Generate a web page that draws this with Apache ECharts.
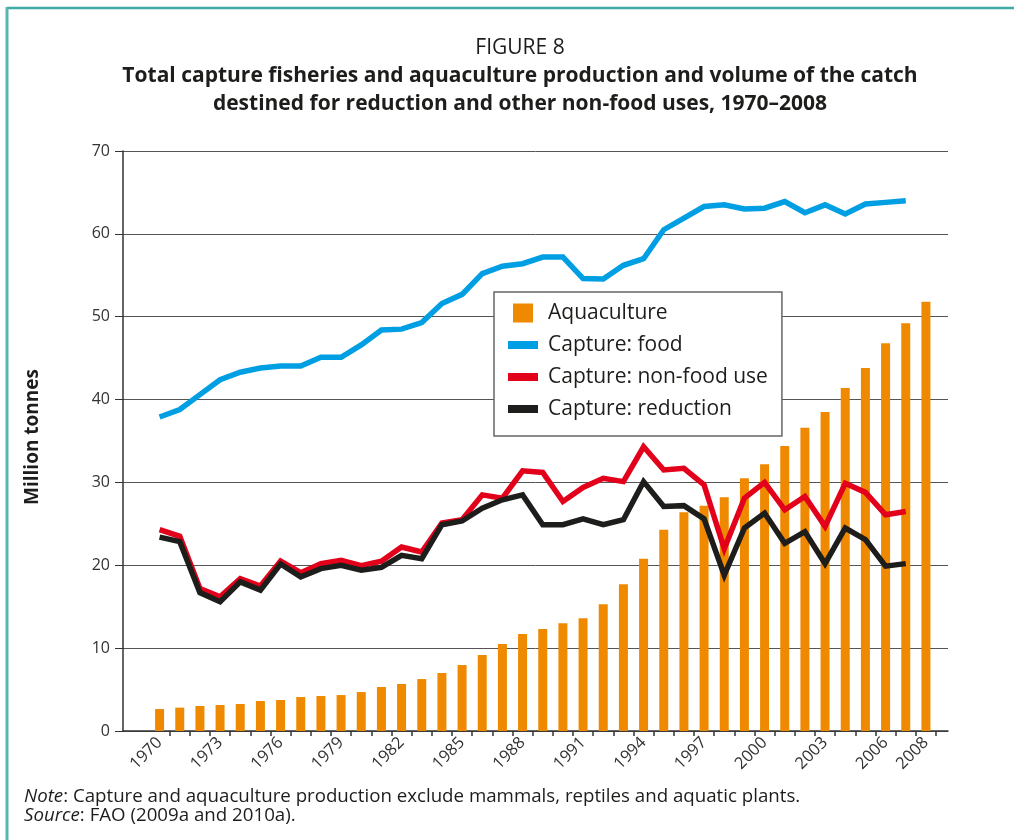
<!DOCTYPE html>
<html>
<head>
<meta charset="utf-8">
<script src="https://cdn.jsdelivr.net/npm/echarts@6/dist/echarts.min.js"></script>
<style>
  html, body { margin: 0; padding: 0; background: #fff; }
  #main { width: 1014px; height: 840px; }
</style>
</head>
<body>
<div id="main"></div>
<script>
// years on the x axis
var years = ['1970', '1971', '1972', '1973', '1974', '1975', '1976', '1977', '1978', '1979',
  '1980', '1981', '1982', '1983', '1984', '1985', '1986', '1987', '1988', '1989',
  '1990', '1991', '1992', '1993', '1994', '1995', '1996', '1997', '1998', '1999',
  '2000', '2001', '2002', '2003', '2004', '2005', '2006', '2007', '2008'];

// million tonnes
var aquaculture = [2.65, 2.82, 3.02, 3.14, 3.26, 3.62, 3.74, 4.1, 4.22, 4.34,
  4.7, 5.31, 5.67, 6.27, 7.0, 7.96, 9.17, 10.5, 11.7, 12.3,
  13.0, 13.6, 15.3, 17.7, 20.8, 24.3, 26.4, 27.2, 28.2, 30.5,
  32.2, 34.4, 36.6, 38.5, 41.4, 43.8, 46.8, 49.2, 51.8];
var captureFood = [37.9, 38.8, 40.6, 42.4, 43.3, 43.8, 44.05, 44.05, 45.1, 45.1,
  46.6, 48.4, 48.5, 49.3, 51.6, 52.7, 55.2, 56.1, 56.4, 57.2,
  57.2, 54.6, 54.55, 56.2, 57.0, 60.5, 61.9, 63.3, 63.5, 63.0,
  63.1, 63.9, 62.55, 63.5, 62.4, 63.6, 63.8, 64.0];
var captureNonFood = [24.3, 23.5, 17.2, 16.2, 18.4, 17.5, 20.5, 19.1, 20.2, 20.6,
  19.95, 20.5, 22.2, 21.6, 25.1, 25.5, 28.5, 28.1, 31.4, 31.2,
  27.7, 29.4, 30.5, 30.1, 34.3, 31.5, 31.7, 29.7, 22.0, 28.1,
  30.0, 26.7, 28.3, 24.7, 29.9, 28.8, 26.1, 26.5];
var captureReduction = [23.4, 22.85, 16.7, 15.6, 18.0, 17.0, 20.15, 18.6, 19.6, 20.0,
  19.4, 19.75, 21.2, 20.8, 24.9, 25.35, 26.9, 27.9, 28.5, 24.9,
  24.9, 25.6, 24.9, 25.5, 30.1, 27.1, 27.2, 25.6, 18.8, 24.5,
  26.3, 22.65, 24.05, 20.2, 24.5, 23.1, 19.9, 20.2];

var yMin = 0, yMax = 70, yStep = 10;

var FONT = '"Open Sans", "Noto Sans", sans-serif';
var TXT = '#1d1d1b';

// legend icons: a square for the bars, a short thick bar for the lines
var ICON_SQUARE = 'path://M0 0M5 0L25 0L25 19L5 19ZM35 19';
var ICON_LINE = 'path://M0 0M0 5.5L30 5.5L30 13.5L0 13.5ZM35 19';

var myChart = echarts.init(document.getElementById('main'));

myChart.setOption({
  backgroundColor: '#ffffff',
  animation: false,
  title: [{
    text: 'FIGURE 8',
    left: 520, top: 35, textAlign: 'center', padding: 0,
    textStyle: { fontFamily: FONT, fontSize: 21, fontWeight: 'normal', color: TXT, lineHeight: 26 }
  }, {
    text: 'Total capture fisheries and aquaculture production and volume of the catch\ndestined for reduction and other non-food uses, 1970\u20132008',
    left: 520, top: 62, textAlign: 'center', padding: 0,
    textStyle: { fontFamily: FONT, fontSize: 21, fontWeight: 'bold', color: TXT, lineHeight: 28 }
  }],
  legend: {
    orient: 'vertical',
    left: 494, top: 292,
    padding: [10.5, 14, 16.5, 14],
    itemGap: 11,
    itemWidth: 35, itemHeight: 19,
    backgroundColor: '#ffffff',
    borderColor: '#666', borderWidth: 1.5,
    itemStyle: { borderWidth: 0 },
    textStyle: { fontFamily: FONT, fontSize: 21, color: TXT, lineHeight: 21 },
    data: [
      { name: 'Aquaculture', icon: ICON_SQUARE },
      { name: 'Capture: food', icon: ICON_LINE },
      { name: 'Capture: non-food use', icon: ICON_LINE },
      { name: 'Capture: reduction', icon: ICON_LINE }
    ]
  },
  grid: [
    // frame grid: axis lines, gridlines, y labels
    { left: 123, right: 66, top: 151, bottom: 109 },
    // data grid
    { left: 149.5, right: 78, top: 151, bottom: 109 }
  ],
  xAxis: [{
    gridIndex: 0, type: 'value', min: 0, max: 1,
    axisLine: { show: true, lineStyle: { color: '#333', width: 1.5 } },
    axisTick: { show: false }, axisLabel: { show: false }, splitLine: { show: false }
  }, {
    gridIndex: 1, type: 'category', data: years, boundaryGap: true,
    axisLine: { show: false },
    axisTick: {
      show: true, length: 5, inside: false,
      interval: function (i) { return i > 0; },
      lineStyle: { color: '#333', width: 1.5 }
    },
    axisLabel: {
      rotate: 45, margin: 9, fontFamily: FONT, fontSize: 16.5, color: '#333',
      interval: function (i) { return i % 3 === 0 || i === years.length - 1; }
    },
    splitLine: { show: false }
  }],
  yAxis: [{
    gridIndex: 0, type: 'value', min: yMin, max: yMax, interval: yStep,
    axisLine: { show: true, lineStyle: { color: '#333', width: 1.5 } },
    axisTick: { show: true, length: 8, lineStyle: { color: '#333', width: 1 } },
    axisLabel: { margin: 13, fontFamily: FONT, fontSize: 16, color: '#333' },
    splitLine: { show: true, lineStyle: { color: '#555', width: 1 } }
  }, {
    gridIndex: 1, type: 'value', min: yMin, max: yMax, interval: yStep, show: false
  }],
  graphic: [
    { type: 'line', shape: { x1: 7, y1: 8, x2: 1014, y2: 8 }, style: { stroke: '#3fa9a3', lineWidth: 2.5 } },
    { type: 'line', shape: { x1: 7, y1: 7, x2: 7, y2: 840 }, style: { stroke: '#58b7b1', lineWidth: 3 } },
    {
      type: 'text', x: 33, y: 437, rotation: Math.PI / 2,
      style: { text: 'Million tonnes', fontFamily: FONT, fontSize: 19, fontWeight: 'bold', fill: TXT, align: 'center', verticalAlign: 'middle' }
    },
    {
      type: 'text', x: 24, y: 787,
      style: {
        text: '{i|Note}: Capture and aquaculture production exclude mammals, reptiles and aquatic plants.\n{i|Source}: FAO (2009a and 2010a).',
        fontFamily: FONT, fontSize: 18.7, fill: TXT, lineHeight: 19,
        rich: { i: { fontFamily: FONT, fontSize: 18.7, fontStyle: 'italic', fill: TXT } }
      }
    }
  ],
  series: [{
    name: 'Aquaculture', type: 'bar', xAxisIndex: 1, yAxisIndex: 1,
    data: aquaculture, barWidth: 9,
    itemStyle: { color: '#ef8a00' }, z: 2
  }, {
    name: 'Capture: food', type: 'line', xAxisIndex: 1, yAxisIndex: 1,
    data: captureFood, symbol: 'none',
    lineStyle: { width: 5.5, color: '#009fe3', join: 'miter' },
    itemStyle: { color: '#009fe3' }, z: 3
  }, {
    name: 'Capture: non-food use', type: 'line', xAxisIndex: 1, yAxisIndex: 1,
    data: captureNonFood, symbol: 'none',
    lineStyle: { width: 5.5, color: '#e3001b', join: 'miter' },
    itemStyle: { color: '#e3001b' }, z: 4
  }, {
    name: 'Capture: reduction', type: 'line', xAxisIndex: 1, yAxisIndex: 1,
    data: captureReduction, symbol: 'none',
    lineStyle: { width: 5.5, color: '#1d1d1b', join: 'miter' },
    itemStyle: { color: '#1d1d1b' }, z: 5
  }]
});
</script>
</body>
</html>
